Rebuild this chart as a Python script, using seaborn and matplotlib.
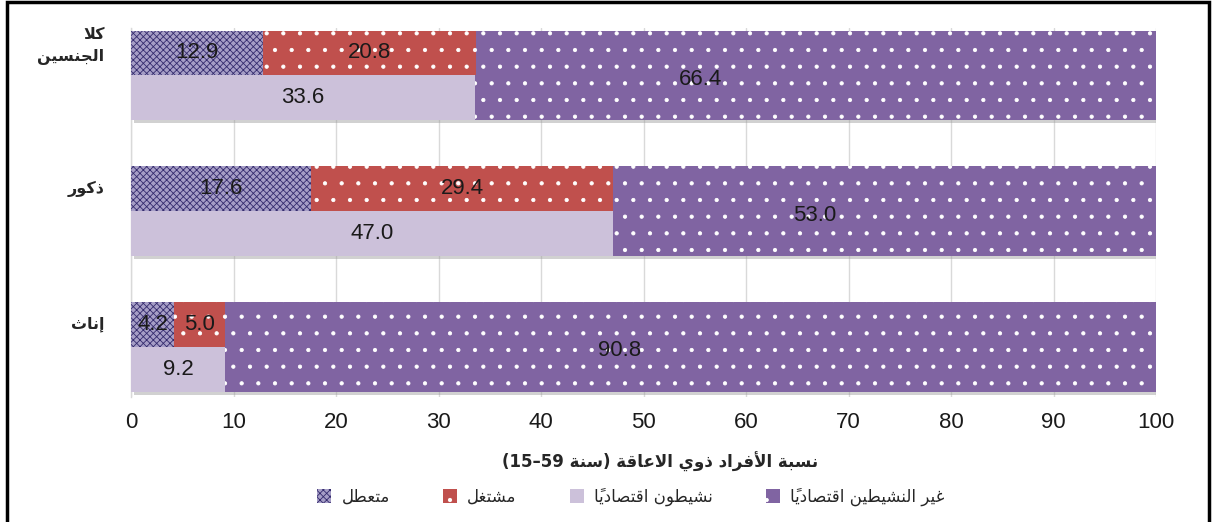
import matplotlib

matplotlib.use("Agg")
import matplotlib.pyplot as plt
import matplotlib.patheffects as pe
from matplotlib.patches import Patch, Rectangle
import numpy as np
import pandas as pd
import seaborn as sns

groups = ["كلا الجنسين", "ذكور", "إناث"]
unemployed = [12.9, 17.6, 4.2]
employed = [20.8, 29.4, 5.0]
active = [33.6, 47.0, 9.2]
inactive = [66.4, 53.0, 90.8]
ticks = list(range(0, 101, 10))
# the source chart puts the inactive labels here, not in the segment middle
inactive_label_x = [55.6, 66.7, 47.7]

series_names = ["متعطل", "مشتغل", "نشيطون اقتصادياً", "غير النشيطين اقتصادياً"]
axis_title = "نسبة الأفراد ذوي الاعاقة"
age_range = "15–59"
age_word = "سنة"

PURPLE = "#8064A2"
RED = "#C0504D"
LAVENDER = "#CCC1DA"
CHECKER = "#352c6e"
CHECKER_BG = "#a69ec6"

# matplotlib has no arabic shaping, so pick the presentation forms by hand
# (isolated, final, initial, medial); right-joining letters only have two
AR_FORMS = {
    "\u0627": "\ufe8d\ufe8e", "\u0623": "\ufe83\ufe84", "\u0625": "\ufe87\ufe88",
    "\u0628": "\ufe8f\ufe90\ufe91\ufe92", "\u0629": "\ufe93\ufe94",
    "\u062a": "\ufe95\ufe96\ufe97\ufe98", "\u062b": "\ufe99\ufe9a\ufe9b\ufe9c",
    "\u062c": "\ufe9d\ufe9e\ufe9f\ufea0", "\u062f": "\ufea9\ufeaa",
    "\u0630": "\ufeab\ufeac", "\u0631": "\ufead\ufeae",
    "\u0633": "\ufeb1\ufeb2\ufeb3\ufeb4", "\u0634": "\ufeb5\ufeb6\ufeb7\ufeb8",
    "\u0635": "\ufeb9\ufeba\ufebb\ufebc", "\u0637": "\ufec1\ufec2\ufec3\ufec4",
    "\u0639": "\ufec9\ufeca\ufecb\ufecc", "\u063a": "\ufecd\ufece\ufecf\ufed0",
    "\u0641": "\ufed1\ufed2\ufed3\ufed4", "\u0642": "\ufed5\ufed6\ufed7\ufed8",
    "\u0643": "\ufed9\ufeda\ufedb\ufedc", "\u0644": "\ufedd\ufede\ufedf\ufee0",
    "\u0645": "\ufee1\ufee2\ufee3\ufee4", "\u0646": "\ufee5\ufee6\ufee7\ufee8",
    "\u0648": "\ufeed\ufeee", "\u064a": "\ufef1\ufef2\ufef3\ufef4",
}
LAM_ALEF = {"\u0627": "\ufefb\ufefc", "\u0623": "\ufef7\ufef8", "\u0625": "\ufef9\ufefa"}
MARKS = "\u064b\u064c\u064d\u064e\u064f\u0650\u0651\u0652"


def ar(text):
    seq = []
    i = 0
    while i < len(text):
        c = text[i]
        if c in MARKS and seq:
            seq[-1][2] += c
        elif c == "\u0644" and i + 1 < len(text) and text[i + 1] in LAM_ALEF:
            seq.append([LAM_ALEF[text[i + 1]], c, ""])
            i += 1
        else:
            seq.append([AR_FORMS.get(c), c, ""])
        i += 1
    out = []
    for k, (forms, ch, marks) in enumerate(seq):
        if forms is None:
            out.append(ch + marks)
            continue
        prev = seq[k - 1][0] if k > 0 else None
        nxt = seq[k + 1][0] if k + 1 < len(seq) else None
        join_prev = prev is not None and len(prev) == 4
        join_next = len(forms) == 4 and nxt is not None
        idx = {(False, False): 0, (True, False): 1, (False, True): 2, (True, True): 3}[
            (join_prev, join_next)
        ]
        out.append(forms[idx] + marks)
    return "".join(reversed(out))


sns.set_theme(style="white")
plt.rcParams["font.family"] = ["Liberation Sans", "DejaVu Sans"]
plt.rcParams["hatch.linewidth"] = 0.6

W, H = 1213, 522
fig = plt.figure(figsize=(W / 100, H / 100), dpi=100)
ax = fig.add_axes([131 / W, 1 - 397 / H, 1025 / W, 369 / H])

pos = np.arange(len(groups))
bar_h = 0.663
half = bar_h / 2
shadow = [pe.SimplePatchShadow(offset=(2, -2), shadow_rgbFace="#9a9a9a", alpha=0.45), pe.Normal()]

# inactive layer: drawn full length, the left part gets covered by the active bars
df = pd.DataFrame({"group": groups, "total": np.add(active, inactive)})
sns.barplot(data=df, x="total", y="group", orient="h", color=PURPLE,
            saturation=1, width=bar_h, ax=ax, zorder=2)
for p in ax.patches:
    p.set_hatch(".")
    p.set_edgecolor("white")
    p.set_linewidth(0)
    p.set_path_effects(shadow)

ax.barh(pos + half / 2, active, height=half, color=LAVENDER, linewidth=0, zorder=3)
ax.barh(pos - half / 2, unemployed, height=half, facecolor=CHECKER_BG, edgecolor=CHECKER,
        hatch="xxxxx", linewidth=0, zorder=3)
ax.barh(pos - half / 2, employed, left=unemployed, height=half, facecolor=RED,
        edgecolor="white", hatch=".", linewidth=0, zorder=3)

val_fs = 16
for i in range(len(groups)):
    ax.text(unemployed[i] / 2, i - half / 2, f"{unemployed[i]:.1f}", ha="center",
            va="center", fontsize=val_fs, color="#1a1a1a", zorder=5)
    ax.text(unemployed[i] + employed[i] / 2, i - half / 2, f"{employed[i]:.1f}",
            ha="center", va="center", fontsize=val_fs, color="#1a1a1a", zorder=5)
    ax.text(active[i] / 2, i + half / 2, f"{active[i]:.1f}", ha="center", va="center",
            fontsize=val_fs, color="#1a1a1a", zorder=5)
    ax.text(inactive_label_x[i], i + 0.03, f"{inactive[i]:.1f}", ha="center",
            va="center", fontsize=val_fs, color="#1a1a1a", zorder=5)
    name = "\n".join(ar(w) for w in groups[i].split())
    ax.text(-2.6, i - half / 2 - (0.05 if "\n" in name else 0), name, ha="right",
            va="center", fontsize=11.5, fontweight="bold", family="DejaVu Sans",
            linespacing=1.6, clip_on=False)

ax.set_xlim(0, 100)
ax.set_ylim(2.37, -0.35)
ax.set_xticks(ticks)
ax.set_xticklabels([str(t) for t in ticks], fontsize=16, color="#1a1a1a")
ax.set_yticks([])
ax.set_xlabel("")
ax.set_ylabel("")
ax.tick_params(axis="x", length=0, pad=11)
ax.grid(axis="x", color="#d9d9d9", linewidth=1, zorder=0)
ax.set_axisbelow(True)
for side in ["top", "right", "bottom"]:
    ax.spines[side].set_visible(False)
ax.spines["left"].set_color("#d9d9d9")
ax.spines["left"].set_linewidth(1)

fig.text(660 / W, 1 - 462 / H, f"({age_range} {ar(age_word)}) {ar(axis_title)}",
         ha="center", va="center", fontsize=12, fontweight="bold",
         family=["DejaVu Sans"])

handles = [
    Patch(facecolor=CHECKER_BG, edgecolor=CHECKER, hatch="xxxxx", linewidth=0),
    Patch(facecolor=RED, edgecolor="white", hatch=".", linewidth=0),
    Patch(facecolor=LAVENDER, linewidth=0),
    Patch(facecolor=PURPLE, edgecolor="white", hatch=".", linewidth=0),
]
fig.legend(handles, [ar(s) for s in series_names], loc="center",
           bbox_to_anchor=(631 / W, 1 - 497 / H), ncol=4, frameon=False,
           prop={"family": "DejaVu Sans", "size": 12}, handlelength=0.85,
           handleheight=0.85, handletextpad=0.6, columnspacing=3.2)

fig.patches.append(Rectangle((7 / W, -0.02), 1202 / W, 1.02 - 1.5 / H, fill=False,
                             edgecolor="black", linewidth=2.5, transform=fig.transFigure,
                             figure=fig))

fig.savefig("out.png", dpi=100)
